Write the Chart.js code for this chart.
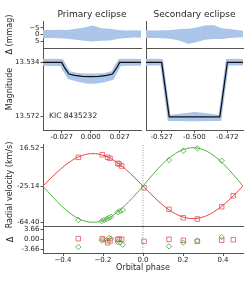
<!DOCTYPE html>
<html>
<head>
<meta charset="utf-8">
<script src="https://cdn.jsdelivr.net/npm/chart.js@4.4.1/dist/chart.umd.min.js"></script>
<style>
html, body { margin: 0; padding: 0; background: #fff; }
#wrap { position: relative; width: 249px; height: 282px; overflow: hidden; }
#wrap canvas { position: absolute; left: 0; top: 0; }
</style>
</head>
<body>
<div id="wrap"></div>
<script>
// ---- tick values / labels
const primTickVals = [-0.0273, 0, 0.0273];
const primTickLabels = ['-0.027', '0.000', '0.027'];
const secTickVals = [-0.5273, -0.5, -0.4724];
const secTickLabels = ['-0.527', '-0.500', '-0.472'];
const resTickVals = [-5, 0, 5];
const resTickLabels = ['\u22125', '0', '5'];
const magTickVals = [13.534, 13.572];
const magTickLabels = ['13.534', '13.572'];
const rvTickVals = [16.52, -25.14, -64.40];
const rvTickLabels = ['16.52', '-25.14', '-64.40'];
const rvResTickVals = [3.66, 0, -3.66];
const rvResTickLabels = ['3.66', '0.00', '-3.66'];
const phaseTickVals = [-0.4, -0.2, 0, 0.2, 0.4];
const phaseTickLabels = ['\u22120.4', '\u22120.2', '0.0', '0.2', '0.4'];

// ---- primary eclipse: model + scatter envelope (mag)
const primPh  = [-0.0449, -0.0273, -0.0240, -0.0205, -0.015, -0.008, 0, 0.008, 0.015, 0.0205, 0.0240, 0.0273, 0.0474];
const primMag = [13.534, 13.534, 13.5385, 13.5422, 13.5432, 13.5438, 13.5441, 13.5438, 13.5432, 13.5422, 13.5385, 13.534, 13.534];
const primTopPh  = [-0.0449, -0.035, -0.0262, -0.0225, -0.0195, -0.012, -0.004, 0.004, 0.012, 0.0195, 0.0225, 0.0262, 0.035, 0.0474];
const primTopMag = [13.5316, 13.5315, 13.5316, 13.5365, 13.5402, 13.5415, 13.5419, 13.5419, 13.5416, 13.5402, 13.5365, 13.5316, 13.5315, 13.5316];
const primBotPh  = [-0.0449, -0.035, -0.0285, -0.0245, -0.0215, -0.012, -0.004, 0.004, 0.012, 0.0215, 0.0245, 0.0285, 0.035, 0.0474];
const primBotMag = [13.5364, 13.5366, 13.5365, 13.5420, 13.5458, 13.5476, 13.5488, 13.5490, 13.5482, 13.5462, 13.5420, 13.5365, 13.5364, 13.5364];

// ---- secondary eclipse
const secPh  = [-0.5404, -0.5273, -0.5210, -0.4787, -0.4724, -0.4593];
const secMag = [13.534, 13.534, 13.5724, 13.5724, 13.534, 13.534];
const secTopPh  = [-0.5404, -0.535, -0.5262, -0.5200, -0.512, -0.505, -0.500, -0.495, -0.488, -0.4797, -0.4735, -0.465, -0.4593];
const secTopMag = [13.5317, 13.5315, 13.5317, 13.5708, 13.5702, 13.5694, 13.5690, 13.5692, 13.5700, 13.5708, 13.5317, 13.5315, 13.5317];
const secBotPh  = [-0.5404, -0.535, -0.5284, -0.5222, -0.512, -0.505, -0.500, -0.495, -0.488, -0.4775, -0.4713, -0.465, -0.4593];
const secBotMag = [13.5362, 13.5362, 13.5362, 13.5752, 13.5752, 13.5754, 13.5754, 13.5754, 13.5752, 13.5752, 13.5362, 13.5362, 13.5362];

// ---- light curve residual envelopes (mmag)
const primResPh = [-0.0449, -0.038, -0.030, -0.022, -0.014, -0.006, 0.002, 0.010, 0.018, 0.026, 0.034, 0.041, 0.0474];
const primResUp = [-3.4, -3.4, -3.6, -3.4, -4.2, -5.1, -6.6, -4.7, -4.2, -3.4, -2.9, -3.2, -3.0];
const primResLo = [2.6, 2.6, 2.8, 3.2, 3.9, 4.6, 5.1, 4.6, 4.4, 3.2, 2.6, 2.2, 2.4];
const secResPh = [-0.5404, -0.533, -0.526, -0.519, -0.512, -0.505, -0.498, -0.491, -0.484, -0.477, -0.470, -0.463, -0.4593];
const secResUp = [-2.9, -2.9, -3.2, -3.4, -4.0, -4.2, -5.1, -6.6, -7.1, -4.7, -4.0, -3.2, -2.7];
const secResLo = [2.6, 2.6, 2.8, 3.4, 4.6, 7.0, 5.6, 3.9, 3.4, 3.4, 2.6, 2.2, 2.2];

// ---- radial velocity models (km/s)
const rvModelPh = [-0.5, -0.45, -0.4, -0.35, -0.3, -0.25, -0.2, -0.15, -0.1, -0.05, 0, 0.05, 0.1, 0.15, 0.2, 0.25, 0.3, 0.35, 0.4, 0.45, 0.5];
const rvModelRed = [-25.14, -14.23, -4.38, 3.42, 8.43, 10.16, 8.43, 3.42, -4.38, -14.23, -25.14, -36.05, -45.90, -53.70, -58.71, -60.44, -58.71, -53.70, -45.90, -36.05, -25.14];
const rvModelGreen = [-25.14, -37.27, -48.22, -56.90, -62.48, -64.40, -62.48, -56.90, -48.22, -37.27, -25.14, -12.27, -0.64, 8.56, 14.48, 16.52, 14.48, 8.56, -0.64, -12.27, -25.14];

// ---- radial velocity measurements and residuals
const redPh  = [-0.3235, -0.2035, -0.1765, -0.165, -0.1265, -0.1185, -0.1065, 0.005, 0.13, 0.2015, 0.2715, 0.3935, 0.4515];
const redRv  = [6.10, 8.92, 6.10, 5.01, -0.42, -1.18, -3.35, -26.91, -50.36, -59.48, -60.89, -47.54, -35.60];
const redRes = [0.29, 0.29, -1.16, -0.5, 0.07, 0.07, 0.07, -0.65, 0.07, -0.29, -0.65, -0.29, -0.07];
const greenPh  = [-0.3235, -0.2065, -0.195, -0.1815, -0.17, -0.16, -0.1265, -0.115, -0.1015, 0.13, 0.2015, 0.2715, 0.3935];
const greenRv  = [-61.98, -63.07, -61.98, -60.89, -59.48, -58.40, -53.62, -52.21, -51.12, 3.17, 13.26, 15.87, 2.41];
const greenRes = [-2.72, -0.29, -0.1, -0.29, 0.54, 0.3, -0.9, -1.16, -1.9, -2.47, -1.16, -0.43, 0.9];

// ---- styles
const W = 249, H = 282;
const TXT = '#262626';
const SPINE = '#555';
const BAND = '#abc5e8';
const RED = '#e3484d', GREEN = '#4fb043';
const RED_M = 'rgba(227,72,77,0.75)', GREEN_M = 'rgba(79,176,67,0.85)';

Chart.defaults.font.family = '"DejaVu Sans"';
Chart.defaults.color = TXT;

const wrap = document.getElementById('wrap');

function pts(xs, ys) { return xs.map((x, i) => ({x: x, y: ys[i]})); }
function poly(tx, ty, bx, by) { return pts(tx, ty).concat(pts(bx, by).reverse()); }

const starLabel = {
    id: 'starLabel',
    afterDraw(chart, args, opts) {
        if (!opts || !opts.text) return;
        const {ctx, chartArea} = chart;
        ctx.save();
        ctx.font = '7.5px "DejaVu Sans"';
        ctx.fillStyle = TXT;
        ctx.textBaseline = 'middle';
        ctx.fillText(opts.text, chartArea.left + opts.dx, chartArea.bottom - opts.dy);
        ctx.restore();
    }
};

function xAxis(o) {
    return {
        type: 'linear', position: 'bottom', min: o.min, max: o.max,
        afterBuildTicks: s => { if (o.vals) s.ticks = o.vals.map(v => ({value: v})); },
        afterFit: s => { s.height = o.h; },
        border: {display: true, color: SPINE, width: 1},
        grid: {drawOnChartArea: false, drawTicks: !!o.vals, tickLength: 3, color: SPINE},
        ticks: {display: !!o.vals, padding: 0, maxRotation: 0, autoSkip: false, font: {size: 7}, color: TXT,
                callback: (v, i) => o.labels ? o.labels[i] : ''},
        title: o.title ? {display: true, text: o.title, font: {size: 8}, color: TXT, padding: 0} : {display: false}
    };
}

function yAxis(o) {
    return {
        type: 'linear', position: 'left', min: o.min, max: o.max, reverse: !!o.reverse,
        afterBuildTicks: s => { if (o.vals) s.ticks = o.vals.map(v => ({value: v})); },
        afterFit: s => { s.width = o.w; },
        border: {display: true, color: SPINE, width: 1},
        grid: {drawOnChartArea: false, drawTicks: !!o.vals, tickLength: 2.5, color: SPINE},
        ticks: {display: !!o.vals, padding: 1, autoSkip: false, font: {size: 7}, color: TXT,
                callback: (v, i) => o.labels ? o.labels[i] : ''},
        title: o.title ? {display: true, text: o.title, font: {size: 8}, color: TXT, padding: {top: o.tpad || 0.7, bottom: 0}} : {display: false}
    };
}

function makeChart(box, yW, xH, topExtra, datasets, x, y, plugins) {
    const c = document.createElement('canvas');
    c.width = W; c.height = H;
    wrap.appendChild(c);
    return new Chart(c.getContext('2d'), {
        type: 'scatter',
        data: {datasets: datasets},
        options: {
            responsive: false, animation: false, events: [], devicePixelRatio: 1,
            layout: {padding: {left: box.l - yW, top: box.t - topExtra, right: W - box.r, bottom: H - box.b - xH}},
            elements: {point: {radius: 0}, line: {borderWidth: 1}},
            plugins: Object.assign({legend: {display: false}, tooltip: {enabled: false}}, plugins || {}),
            scales: {x: x, y: y}
        },
        plugins: [starLabel]
    });
}

function panelTitle(text) {
    return {display: true, text: text, fullSize: false, color: TXT,
            font: {size: 9, weight: 'normal'}, padding: {top: 0, bottom: 0.6}};
}
const TITLE_H = 9 * 1.2 + 0.6;

const bandSet = data => ({data: data, showLine: true, fill: 'shape', backgroundColor: BAND,
                          borderWidth: 0, borderColor: 'rgba(0,0,0,0)', pointRadius: 0});
const modelSet = data => ({data: data, showLine: true, borderColor: '#111', borderWidth: 1.3, pointRadius: 0, tension: 0});

const PRIM = {min: -0.0449, max: 0.0474};
const SEC = {min: -0.5404, max: -0.4593};
const MAG = {min: 13.5239, max: 13.5816};
const RES = {min: -10, max: 10};
const RV = {min: -68.45, max: 20.57};
const RVRES = {min: -4.9, max: 4.9};

// top-left: primary residuals
makeChart({l: 43, t: 21, r: 141, b: 48}, 39, 0, TITLE_H,
    [bandSet(poly(primResPh, primResUp, primResPh, primResLo))],
    xAxis({min: PRIM.min, max: PRIM.max, h: 0}),
    yAxis({min: RES.min, max: RES.max, reverse: true, vals: resTickVals, labels: resTickLabels, w: 39, title: '\u0394 (mmag)'}),
    {title: panelTitle('Primary eclipse')});

// top-right: secondary residuals
makeChart({l: 146, t: 21, r: 243, b: 48}, 0, 0, TITLE_H,
    [bandSet(poly(secResPh, secResUp, secResPh, secResLo))],
    xAxis({min: SEC.min, max: SEC.max, h: 0}),
    yAxis({min: RES.min, max: RES.max, reverse: true, w: 0}),
    {title: panelTitle('Secondary eclipse')});

// middle-left: primary eclipse light curve
makeChart({l: 43, t: 48, r: 141, b: 130}, 39, 12, 0,
    [modelSet(pts(primPh, primMag)), bandSet(poly(primTopPh, primTopMag, primBotPh, primBotMag))],
    xAxis({min: PRIM.min, max: PRIM.max, vals: primTickVals, labels: primTickLabels, h: 12}),
    yAxis({min: MAG.min, max: MAG.max, reverse: true, vals: magTickVals, labels: magTickLabels, w: 39, title: 'Magnitude'}),
    {starLabel: {text: 'KIC 8435232', dx: 6, dy: 13.7}});

// middle-right: secondary eclipse light curve
makeChart({l: 146, t: 48, r: 243, b: 130}, 0, 12, 0,
    [modelSet(pts(secPh, secMag)), bandSet(poly(secTopPh, secTopMag, secBotPh, secBotMag))],
    xAxis({min: SEC.min, max: SEC.max, vals: secTickVals, labels: secTickLabels, h: 12}),
    yAxis({min: MAG.min, max: MAG.max, reverse: true, w: 0}));

// radial velocities
const zeroRv = [{x: 0, y: RV.min}, {x: 0, y: RV.max}];
makeChart({l: 43, t: 144, r: 243, b: 226}, 39, 0, 0,
    [
        {data: pts(redPh, redRv), pointStyle: 'rect', pointRadius: 3.2, pointBorderWidth: 1,
         pointBorderColor: RED_M, pointBackgroundColor: 'rgba(0,0,0,0)'},
        {data: pts(greenPh, greenRv), pointStyle: 'rectRot', pointRadius: 2.7, pointBorderWidth: 1,
         pointBorderColor: GREEN_M, pointBackgroundColor: 'rgba(0,0,0,0)'},
        {data: pts(rvModelPh, rvModelRed), showLine: true, borderColor: RED, borderWidth: 1, pointRadius: 0, cubicInterpolationMode: 'monotone'},
        {data: pts(rvModelPh, rvModelGreen), showLine: true, borderColor: GREEN, borderWidth: 1, pointRadius: 0, cubicInterpolationMode: 'monotone'},
        {data: zeroRv, showLine: true, borderColor: '#9a9a9a', borderWidth: 1, borderDash: [1, 1.5], pointRadius: 0}
    ],
    xAxis({min: -0.5, max: 0.5, h: 0}),
    yAxis({min: RV.min, max: RV.max, vals: rvTickVals, labels: rvTickLabels, w: 39, title: 'Radial velocity (km/s)'}));

// radial velocity residuals
const zeroRes = [{x: 0, y: RVRES.min}, {x: 0, y: RVRES.max}];
makeChart({l: 43, t: 226, r: 243, b: 253}, 39, 20.1, 0,
    [
        {data: pts(redPh, redRes), pointStyle: 'rect', pointRadius: 3.2, pointBorderWidth: 1,
         pointBorderColor: RED_M, pointBackgroundColor: 'rgba(0,0,0,0)'},
        {data: pts(greenPh, greenRes), pointStyle: 'rectRot', pointRadius: 2.7, pointBorderWidth: 1,
         pointBorderColor: GREEN_M, pointBackgroundColor: 'rgba(0,0,0,0)'},
        {data: zeroRes, showLine: true, borderColor: '#9a9a9a', borderWidth: 1, borderDash: [1, 1.5], pointRadius: 0}
    ],
    xAxis({min: -0.5, max: 0.5, vals: phaseTickVals, labels: phaseTickLabels, h: 20.1, title: 'Orbital phase'}),
    yAxis({min: RVRES.min, max: RVRES.max, vals: rvResTickVals, labels: rvResTickLabels, w: 39, title: '\u0394', tpad: 2}));
</script>
</body>
</html>
